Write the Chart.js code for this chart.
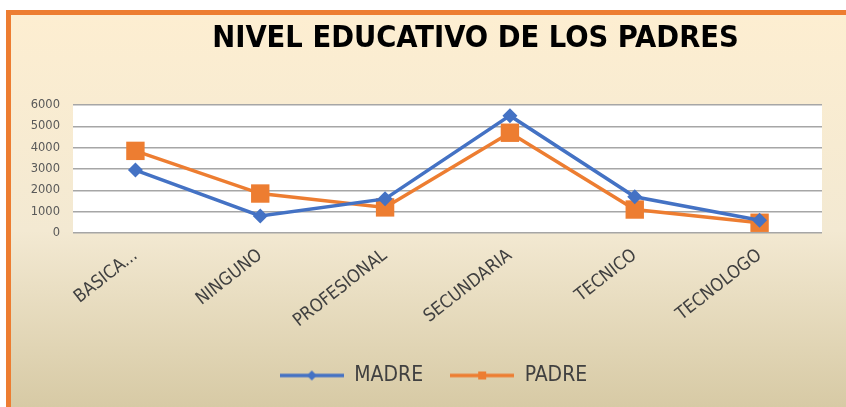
<!DOCTYPE html>
<html>
<head>
<meta charset="utf-8">
<script src="https://cdn.jsdelivr.net/npm/chart.js@4.4.1/dist/chart.umd.min.js"></script>
<style>
  html, body { margin: 0; padding: 0; background: #fff; }
  body { width: 846px; height: 407px; overflow: hidden; position: relative; }
  #box {
    position: absolute; left: 6px; top: 10px; width: 835px; height: 392px;
    border-left: 5px solid #ED7D31; border-top: 5px solid #ED7D31;
    background: linear-gradient(to bottom, #FDEED1 0%, #F3E9D2 55%, #D7CAA5 100%);
  }
  #chart { display: block; }
</style>
</head>
<body>
<div id="box"><canvas id="chart" width="835" height="392"></canvas></div>
<script>
// datos
const categorias = ["BASICA...", "NINGUNO", "PROFESIONAL", "SECUNDARIA", "TECNICO", "TECNOLOGO"];
const madre = [2950, 800, 1600, 5500, 1700, 600];
const padre = [3850, 1850, 1200, 4700, 1100, 480];
const ticksY = [0, 1000, 2000, 3000, 4000, 5000, 6000];
const titulo = "NIVEL EDUCATIVO DE LOS PADRES";

const AZUL = "#4472C4";
const NARANJA = "#ED7D31";
const FUENTE = "'Liberation Sans Narrow', 'DejaVu Sans Condensed', 'Noto Sans', sans-serif";

// iconos de leyenda: linea + marcador
function iconoLeyenda(color, forma) {
  const c = document.createElement("canvas");
  c.width = 64; c.height = 12;
  const g = c.getContext("2d");
  g.strokeStyle = color;
  g.lineWidth = 3.5;
  g.beginPath(); g.moveTo(0, 6); g.lineTo(64, 6); g.stroke();
  g.fillStyle = color;
  if (forma === "diamond") {
    g.beginPath(); g.moveTo(32, 1); g.lineTo(37, 6); g.lineTo(32, 11); g.lineTo(27, 6); g.closePath(); g.fill();
  } else {
    g.fillRect(28, 2, 8, 8);
  }
  return c;
}

const fondoBlanco = {
  id: "fondoBlanco",
  beforeDraw(chart) {
    const a = chart.chartArea, ctx = chart.ctx;
    ctx.save();
    ctx.fillStyle = "#ffffff";
    ctx.fillRect(a.left, a.top, a.right - a.left, a.bottom - a.top);
    ctx.restore();
  }
};

// la leyenda del original esta algo a la derecha
const moverLeyenda = {
  id: "moverLeyenda",
  afterLayout(chart) {
    chart.legend.left += 17;
    chart.legend.right += 17;
  }
};

const tituloPlugin = {
  id: "tituloPlugin",
  afterDraw(chart) {
    const ctx = chart.ctx;
    ctx.save();
    ctx.font = "bold 30.5px " + FUENTE;
    ctx.fillStyle = "#000000";
    ctx.textAlign = "center";
    ctx.textBaseline = "middle";
    ctx.fillText(titulo, 464.5, 24);
    ctx.restore();
  }
};

new Chart(document.getElementById("chart").getContext("2d"), {
  type: "line",
  data: {
    labels: categorias,
    datasets: [
      {
        label: "MADRE",
        data: madre,
        borderColor: AZUL,
        backgroundColor: AZUL,
        borderWidth: 3.5,
        pointStyle: "rectRot",
        pointRadius: 7.5,
        pointBorderWidth: 0,
        tension: 0
      },
      {
        label: "PADRE",
        data: padre,
        borderColor: NARANJA,
        backgroundColor: NARANJA,
        borderWidth: 3.5,
        pointStyle: "rect",
        pointRadius: 13,
        pointBorderWidth: 0,
        tension: 0
      }
    ]
  },
  options: {
    responsive: false,
    animation: false,
    events: [],
    layout: { padding: { top: 90, left: 0, right: 24, bottom: 11 } },
    plugins: {
      title: { display: false },
      tooltip: { enabled: false },
      legend: {
        position: "bottom",
        labels: {
          usePointStyle: true,
          pointStyleWidth: 64,
          padding: 27,
          color: "#404040",
          font: { family: FUENTE, size: 21 },
          generateLabels(chart) {
            return chart.data.datasets.map((ds, i) => ({
              text: ds.label,
              fillStyle: ds.borderColor,
              strokeStyle: ds.borderColor,
              fontColor: "#404040",
              lineWidth: 0,
              pointStyle: iconoLeyenda(ds.borderColor, i === 0 ? "diamond" : "square"),
              datasetIndex: i,
              hidden: false
            }));
          }
        }
      }
    },
    scales: {
      y: {
        min: 0,
        max: 6000,
        afterFit(scale) { scale.width = 62; },
        afterBuildTicks(scale) { scale.ticks = ticksY.map(v => ({ value: v })); },
        ticks: {
          padding: 13,
          color: "#595959",
          font: { family: "'DejaVu Sans', sans-serif", size: 11.5 },
          callback: v => String(v)
        },
        grid: { color: "#A6A6A6", lineWidth: 1.5, drawTicks: false },
        border: { display: false }
      },
      x: {
        offset: true,
        afterFit(scale) { scale.height = 105; },
        ticks: {
          minRotation: 38,
          maxRotation: 38,
          padding: 4,
          color: "#404040",
          font: { family: FUENTE, size: 18 }
        },
        grid: { display: false },
        border: { display: false }
      }
    }
  },
  plugins: [fondoBlanco, moverLeyenda, tituloPlugin]
});
</script>
</body>
</html>
